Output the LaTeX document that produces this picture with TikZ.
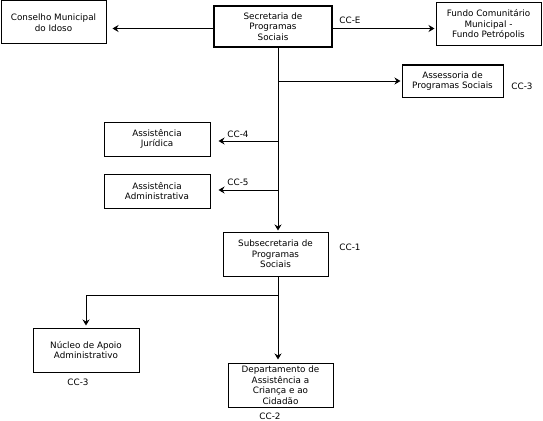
\documentclass[tikz,border=0pt]{standalone}
\usepackage{fontspec}
\setmainfont{DejaVu Sans}
\usetikzlibrary{arrows.meta}
\usetikzlibrary{calc,positioning}

\tikzset{
  orgbox/.style={draw, align=center, inner sep=1pt, font=\fontsize{8.8}{10.5}\selectfont},
  cclabel/.style={font=\fontsize{8.8}{10.5}\selectfont, inner sep=0pt}
}

\begin{document}
\begin{tikzpicture}[>={Stealth[length=6pt,width=7pt]}, x=1pt, y=-1pt, line width=1pt]

    \useasboundingbox (0,0) rectangle (543,420);

    % caixas
    \node[orgbox, minimum width=105pt, minimum height=43pt] (cmi) at (53.5,22.5) {Conselho Municipal\\do Idoso};
    \node[orgbox, line width=2.6pt, minimum width=118pt, minimum height=41pt] (sps) at (273,26.5) {Secretaria de\\Programas\\Sociais};
    \node[orgbox, minimum width=105pt, minimum height=43pt] (fcm) at (488.5,24.5) {Fundo Comunitário\\Municipal -\\Fundo Petrópolis};
    \node[orgbox, minimum width=101pt, minimum height=32pt] (aps) at (452.5,81) {Assessoria de\\Programas Sociais};
    \node[orgbox, minimum width=106pt, minimum height=34pt] (aj) at (157,139) {Assistência\\Jurídica};
    \node[orgbox, minimum width=106pt, minimum height=34pt] (aa) at (157,191) {Assistência\\Administrativa};
    \node[orgbox, minimum width=105pt, minimum height=44pt] (sub) at (275.5,254) {Subsecretaria de\\Programas\\Sociais};
    \node[orgbox, minimum width=106pt, minimum height=44pt] (nap) at (86,350) {Núcleo de Apoio\\Administrativo};
    \node[orgbox, minimum width=105pt, minimum height=44pt] (dac) at (280.5,385) {Departamento de\\Assistência a\\Criança e ao\\Cidadão};

    % eixo vertical
    \coordinate (trunk) at (278,0);
    \coordinate (split) at (278,295);
    \coordinate (spsw) at ($(sps.west)+(0,2)$);
    \coordinate (spse) at ($(sps.east)+(0,2)$);

    \draw[->] (spsw) -- ($(cmi.east |- spsw)+(6,0)$);
    \draw[->] (spse) -- ($(fcm.west |- spse)+(-1,0)$);
    \draw[->] (sps.south -| trunk) -- ($(sub.north -| trunk)+(0,-1)$);
    \draw[->] (trunk |- aps) -- ($(aps.west)+(-1,0)$);
    \draw[->] ($(trunk |- aj)+(0,2)$) -- ($(aj.east)+(8,2)$);
    \draw[->] ($(trunk |- aa)+(0,-1)$) -- ($(aa.east)+(8,-1)$);
    \draw (sub.south -| trunk) -- (split);
    \draw[->] (split) -| ($(nap.north)+(0,-2)$);
    \draw[->] (split) -- ($(dac.north -| trunk)+(0,-3)$);

    % rotulos CC
    \node[cclabel] (ccE) at (350,20) {CC-E};
    \node[cclabel] (cc3a) at (522,86) {CC-3};
    \node[cclabel] (cc4) at (238,134) {CC-4};
    \node[cclabel] (cc5) at (238,182) {CC-5};
    \node[cclabel] (cc1) at (350,247) {CC-1};
    \node[cclabel] (cc3b) at (78,382) {CC-3};
    \node[cclabel] (cc2) at (270,416) {CC-2};

\end{tikzpicture}
\end{document}
